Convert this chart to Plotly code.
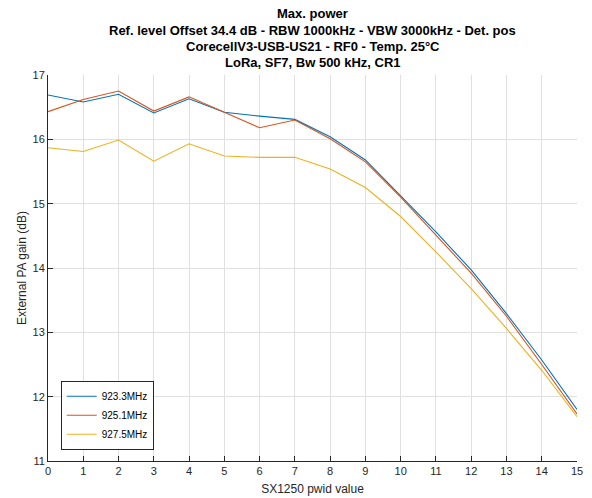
import plotly.graph_objects as go

# SX1250 pwid setting vs. measured external PA gain (dB)
pwid = list(range(16))
gain_923_3 = [16.69, 16.58, 16.70, 16.41, 16.63, 16.42, 16.36, 16.31,
              16.04, 15.68, 15.12, 14.56, 13.97, 13.29, 12.57, 11.80]
gain_925_1 = [16.43, 16.62, 16.75, 16.44, 16.66, 16.42, 16.18, 16.30,
              16.01, 15.65, 15.10, 14.51, 13.92, 13.25, 12.50, 11.73]
gain_927_5 = [15.87, 15.81, 15.99, 15.66, 15.93, 15.74, 15.72, 15.72,
              15.54, 15.25, 14.80, 14.25, 13.68, 13.06, 12.41, 11.69]

series_names = ["923.3MHz", "925.1MHz", "927.5MHz"]
series_values = [gain_923_3, gain_925_1, gain_927_5]
colors = ["#0072BD", "#D95319", "#EDB120"]

title_lines = [
    "Max. power",
    "Ref. level Offset 34.4 dB - RBW 1000kHz - VBW 3000kHz - Det. pos",
    "CorecellV3-USB-US21 - RF0 - Temp. 25°C",
    "LoRa, SF7, Bw 500 kHz, CR1",
]

FONT = "Liberation Sans, Arial, Helvetica, sans-serif"
TXT = "#262626"

fig = go.Figure()
for name, vals, col in zip(series_names, series_values, colors):
    fig.add_trace(go.Scatter(x=pwid, y=vals, mode="lines", name=name,
                             line=dict(color=col, width=1.1)))

W, H = 592, 498
ml, mr, mt, mb = 48, 15, 75, 37
ph = H - mt - mb

# Multi-line bold title, one annotation per line
line_centers = [14, 30, 46.5, 62.5]
for txt, yc in zip(title_lines, line_centers):
    fig.add_annotation(text=f"<b>{txt}</b>", xref="paper", yref="paper",
                       x=0.5, y=1 + (mt - yc) / ph, xanchor="center",
                       yanchor="middle", showarrow=False,
                       font=dict(family=FONT, size=13, color="#000000"))

axis_common = dict(showline=True, linecolor=TXT, linewidth=1, mirror=False,
                   ticks="inside", ticklen=5, tickcolor=TXT, tickwidth=1,
                   showgrid=True, gridcolor="#e0e0e0", gridwidth=1,
                   zeroline=False, automargin=False,
                   tickfont=dict(family=FONT, size=11, color=TXT))

fig.update_xaxes(range=[0, 15], tickmode="linear", tick0=0, dtick=1,
                 title=dict(text="SX1250 pwid value", standoff=8,
                            font=dict(family=FONT, size=12, color=TXT)),
                 **axis_common)
fig.update_yaxes(range=[11, 17], tickmode="linear", tick0=11, dtick=1,
                 title=dict(text="External PA gain (dB)", standoff=3,
                            font=dict(family=FONT, size=12, color=TXT)),
                 **axis_common)

fig.update_layout(
    width=W, height=H,
    margin=dict(l=ml, r=mr, t=mt, b=mb),
    paper_bgcolor="white", plot_bgcolor="white",
    font=dict(family=FONT, size=12, color=TXT),
    showlegend=True,
    legend=dict(x=0.024, y=0.029, xanchor="left", yanchor="bottom",
                bgcolor="white", bordercolor=TXT, borderwidth=1,
                font=dict(family=FONT, size=10, color="#000000"),
                itemwidth=30, tracegroupgap=0),
)

fig.write_html("out.html")
